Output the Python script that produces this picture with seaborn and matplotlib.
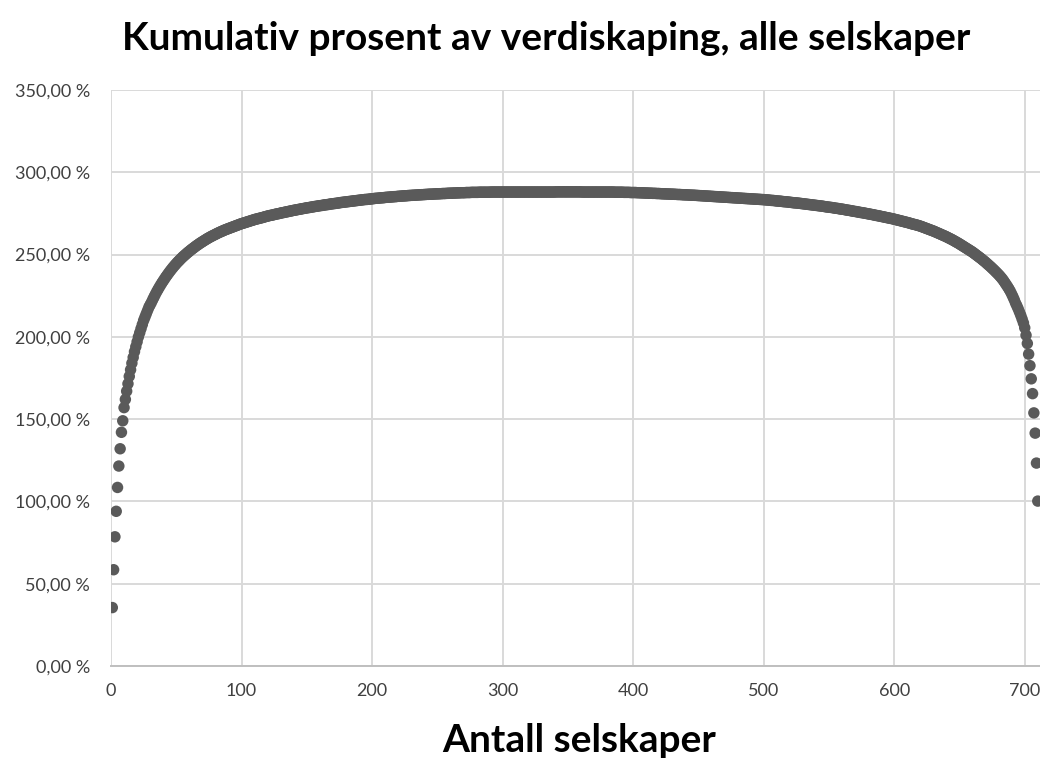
import matplotlib
matplotlib.use("Agg")
import matplotlib.pyplot as plt
from matplotlib.ticker import FuncFormatter, FixedLocator
import seaborn as sns
import pandas as pd

# ---------------- data ----------------
title_text = "Kumulativ prosent av verdiskaping, alle selskaper"
x_label = "Antall selskaper"
x_ticks = [0, 100, 200, 300, 400, 500, 600, 700]
y_ticks = [0, 50, 100, 150, 200, 250, 300, 350]

vals_001_100 = [
    35.5, 58.5, 78.5, 94.0, 108.5, 121.5, 132.0, 142.0, 149.0, 157.0,
    162.0, 167.0, 171.5, 176.0, 180.0, 184.0, 187.5, 191.0, 194.0, 197.0,
    200.0, 202.5, 205.0, 207.5, 210.0, 212.0, 214.0, 216.0, 218.0, 219.5,
    221.0, 222.7, 224.3, 225.9, 227.4, 228.8, 230.2, 231.5, 232.8, 234.0,
    235.2, 236.4, 237.5, 238.6, 239.7, 240.7, 241.7, 242.7, 243.6, 244.5,
    245.4, 246.2, 247.0, 247.8, 248.6, 249.3, 250.0, 250.7, 251.4, 252.0,
    252.7, 253.3, 253.9, 254.5, 255.1, 255.7, 256.2, 256.8, 257.3, 257.8,
    258.3, 258.8, 259.3, 259.8, 260.2, 260.7, 261.1, 261.5, 261.9, 262.3,
    262.7, 263.1, 263.5, 263.8, 264.2, 264.5, 264.9, 265.2, 265.5, 265.8,
    266.1, 266.4, 266.7, 267.0, 267.3, 267.6, 267.9, 268.2, 268.5, 268.8,
]
vals_101_200 = [
    269.0, 269.3, 269.5, 269.8, 270.0, 270.3, 270.5, 270.8, 271.0, 271.3,
    271.5, 271.7, 271.9, 272.1, 272.3, 272.5, 272.7, 273.0, 273.2, 273.4,
    273.6, 273.8, 273.9, 274.1, 274.3, 274.5, 274.7, 274.8, 275.0, 275.2,
    275.4, 275.5, 275.7, 275.9, 276.0, 276.2, 276.4, 276.5, 276.7, 276.9,
    277.0, 277.2, 277.3, 277.5, 277.6, 277.8, 277.9, 278.1, 278.2, 278.4,
    278.5, 278.6, 278.8, 278.9, 279.0, 279.2, 279.3, 279.4, 279.6, 279.7,
    279.8, 279.9, 280.1, 280.2, 280.3, 280.4, 280.5, 280.7, 280.8, 280.9,
    281.0, 281.1, 281.2, 281.3, 281.5, 281.6, 281.7, 281.8, 281.9, 282.0,
    282.1, 282.2, 282.3, 282.4, 282.5, 282.6, 282.7, 282.8, 282.9, 283.0,
    283.1, 283.2, 283.3, 283.4, 283.5, 283.5, 283.6, 283.7, 283.8, 283.9,
]
vals_201_300 = [
    284.0, 284.1, 284.2, 284.2, 284.3, 284.4, 284.5, 284.5, 284.6, 284.7,
    284.8, 284.8, 284.9, 285.0, 285.0, 285.1, 285.2, 285.2, 285.3, 285.4,
    285.4, 285.5, 285.6, 285.6, 285.7, 285.7, 285.8, 285.9, 285.9, 286.0,
    286.0, 286.1, 286.1, 286.2, 286.2, 286.3, 286.3, 286.4, 286.4, 286.5,
    286.5, 286.6, 286.6, 286.7, 286.7, 286.7, 286.8, 286.8, 286.9, 286.9,
    286.9, 287.0, 287.0, 287.1, 287.1, 287.1, 287.2, 287.2, 287.3, 287.3,
    287.3, 287.4, 287.4, 287.4, 287.5, 287.5, 287.5, 287.6, 287.6, 287.6,
    287.6, 287.7, 287.7, 287.7, 287.7, 287.8, 287.8, 287.8, 287.8, 287.8,
    287.8, 287.9, 287.9, 287.9, 287.9, 287.9, 287.9, 287.9, 287.9, 287.9,
    288.0, 288.0, 288.0, 288.0, 288.0, 288.0, 288.0, 288.0, 288.0, 288.0,
]
vals_301_400 = [
    288.0, 288.0, 288.0, 288.0, 288.0, 288.0, 288.0, 288.0, 288.0, 288.0,
    288.0, 288.0, 288.0, 288.0, 288.0, 288.0, 288.0, 288.0, 288.0, 288.0,
    288.0, 288.0, 288.0, 288.0, 288.0, 288.0, 288.0, 288.0, 288.0, 288.0,
    288.0, 288.0, 288.0, 288.0, 288.0, 288.0, 288.0, 288.0, 288.0, 288.0,
    288.1, 288.1, 288.1, 288.1, 288.1, 288.1, 288.1, 288.1, 288.1, 288.1,
    288.1, 288.1, 288.1, 288.1, 288.1, 288.1, 288.1, 288.1, 288.1, 288.1,
    288.0, 288.0, 288.0, 288.0, 288.0, 288.0, 288.0, 288.0, 288.0, 288.0,
    288.0, 288.0, 288.0, 288.0, 288.0, 288.0, 288.0, 288.0, 288.0, 288.0,
    288.0, 288.0, 288.0, 288.0, 288.0, 287.9, 287.9, 287.9, 287.9, 287.9,
    287.9, 287.9, 287.8, 287.8, 287.8, 287.8, 287.8, 287.7, 287.7, 287.7,
]
vals_401_500 = [
    287.7, 287.7, 287.6, 287.6, 287.6, 287.5, 287.5, 287.5, 287.4, 287.4,
    287.4, 287.3, 287.3, 287.3, 287.2, 287.2, 287.2, 287.1, 287.1, 287.1,
    287.0, 287.0, 286.9, 286.9, 286.9, 286.8, 286.8, 286.8, 286.7, 286.7,
    286.7, 286.6, 286.6, 286.5, 286.5, 286.5, 286.4, 286.4, 286.3, 286.3,
    286.3, 286.2, 286.2, 286.1, 286.1, 286.1, 286.0, 286.0, 285.9, 285.9,
    285.8, 285.8, 285.7, 285.7, 285.6, 285.6, 285.5, 285.5, 285.4, 285.4,
    285.3, 285.3, 285.2, 285.2, 285.1, 285.1, 285.0, 285.0, 284.9, 284.9,
    284.8, 284.8, 284.7, 284.7, 284.6, 284.6, 284.5, 284.5, 284.4, 284.4,
    284.3, 284.3, 284.2, 284.2, 284.1, 284.1, 284.0, 284.0, 283.9, 283.9,
    283.8, 283.8, 283.7, 283.7, 283.6, 283.6, 283.5, 283.5, 283.4, 283.4,
]
vals_501_600 = [
    283.3, 283.2, 283.2, 283.1, 283.0, 282.9, 282.9, 282.8, 282.7, 282.6,
    282.5, 282.5, 282.4, 282.3, 282.2, 282.1, 282.1, 282.0, 281.9, 281.8,
    281.7, 281.6, 281.5, 281.4, 281.4, 281.3, 281.2, 281.1, 281.0, 280.9,
    280.8, 280.7, 280.6, 280.5, 280.4, 280.3, 280.2, 280.1, 280.0, 279.9,
    279.8, 279.7, 279.6, 279.5, 279.4, 279.3, 279.1, 279.0, 278.9, 278.8,
    278.7, 278.6, 278.5, 278.3, 278.2, 278.1, 278.0, 277.8, 277.7, 277.6,
    277.5, 277.3, 277.2, 277.0, 276.9, 276.8, 276.6, 276.5, 276.3, 276.2,
    276.1, 275.9, 275.8, 275.6, 275.5, 275.4, 275.2, 275.1, 274.9, 274.8,
    274.6, 274.5, 274.3, 274.2, 274.0, 273.8, 273.7, 273.5, 273.4, 273.2,
    273.0, 272.9, 272.7, 272.5, 272.4, 272.2, 272.0, 271.9, 271.7, 271.5,
]
vals_601_710 = [
    271.3, 271.1, 270.9, 270.7, 270.5, 270.3, 270.1, 269.9, 269.7, 269.5,
    269.3, 269.1, 268.8, 268.6, 268.4, 268.2, 268.0, 267.8, 267.5, 267.3,
    267.0, 266.7, 266.4, 266.1, 265.8, 265.5, 265.2, 264.9, 264.6, 264.3,
    264.0, 263.6, 263.3, 262.9, 262.6, 262.2, 261.9, 261.5, 261.2, 260.8,
    260.4, 260.0, 259.6, 259.2, 258.8, 258.3, 257.9, 257.4, 257.0, 256.5,
    256.0, 255.5, 255.0, 254.5, 254.0, 253.5, 253.0, 252.5, 252.0, 251.5,
    250.9, 250.3, 249.7, 249.1, 248.5, 247.9, 247.3, 246.6, 246.0, 245.3,
    244.6, 243.9, 243.2, 242.5, 241.7, 241.0, 240.2, 239.4, 238.6, 237.8,
    236.9, 236.0, 235.0, 233.9, 232.7, 231.5, 230.3, 229.0, 227.6, 226.0,
    224.3, 222.5, 220.5, 218.8, 217.0, 215.0, 213.0, 210.8, 208.5, 205.5,
    201.0, 196.0, 189.5, 182.5, 174.5, 165.5, 153.8, 141.5, 123.3, 100.2,
]

cum_pct = (vals_001_100 + vals_101_200 + vals_201_300 + vals_301_400
           + vals_401_500 + vals_501_600 + vals_601_710)
companies = list(range(1, len(cum_pct) + 1))

df = pd.DataFrame({"selskaper": companies, "kumulativ": cum_pct})

# ---------------- styling ----------------
W, H = 1040, 758
sns.set_theme(style="whitegrid")
plt.rcParams["font.family"] = ["Lato", "DejaVu Sans"]

fig = plt.figure(figsize=(W / 100, H / 100), dpi=100)
fig.patch.set_facecolor("white")

left_px, right_px, top_px, bottom_px = 111, 1040, 90, 666
ax = fig.add_axes([left_px / W, 1 - bottom_px / H,
                   (right_px - left_px) / W, (bottom_px - top_px) / H])
ax.set_facecolor("white")

sns.scatterplot(data=df, x="selskaper", y="kumulativ", ax=ax,
                color="#5a5a5a", s=68, linewidth=0, edgecolor="none",
                legend=False, zorder=3)

ax.set_xlim(0, 711.7)
ax.set_ylim(0, 350)
ax.xaxis.set_major_locator(FixedLocator(x_ticks))
ax.yaxis.set_major_locator(FixedLocator(y_ticks))
ax.yaxis.set_major_formatter(
    FuncFormatter(lambda v, p: f"{v:.2f}".replace(".", ",") + " %"))
ax.xaxis.set_major_formatter(FuncFormatter(lambda v, p: f"{int(v)}"))

ax.grid(True, color="#d9d9d9", linewidth=1.4)
ax.set_axisbelow(True)
for side in ["top", "right", "left"]:
    ax.spines[side].set_visible(False)
ax.spines["bottom"].set_visible(True)
ax.spines["bottom"].set_color("#bfbfbf")
ax.spines["bottom"].set_linewidth(1.4)

ax.tick_params(axis="both", which="both", length=0, labelsize=13,
               labelcolor="#404040")
ax.tick_params(axis="y", pad=15)
ax.tick_params(axis="x", pad=12)
ax.set_xlabel("")
ax.set_ylabel("")

fig.text(546 / W, 1 - 38 / H, title_text, ha="center", va="center",
         fontsize=28, fontweight="bold", color="black")
fig.text(579 / W, 1 - 740 / H, x_label, ha="center", va="center",
         fontsize=28, fontweight="bold", color="black")

fig.savefig("out.png", dpi=100, facecolor="white")
